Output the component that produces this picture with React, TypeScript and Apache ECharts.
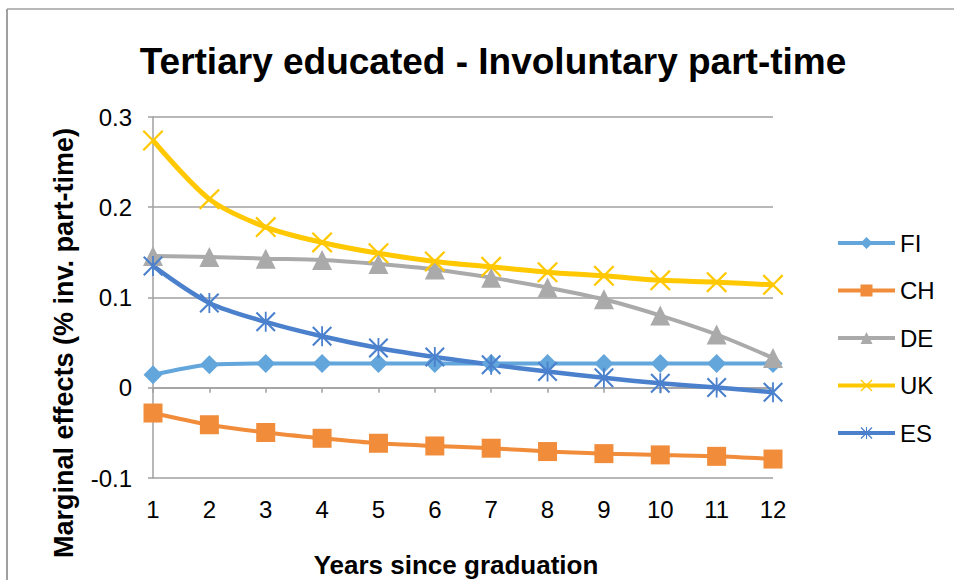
import React, { useEffect, useRef } from "react";
import * as echarts from "echarts";

const years = ["1", "2", "3", "4", "5", "6", "7", "8", "9", "10", "11", "12"];
const fiValues = [0.0144, 0.0256, 0.027, 0.027, 0.027, 0.027, 0.027, 0.027, 0.027, 0.027, 0.027, 0.027];
const chValues = [-0.028, -0.041, -0.0496, -0.056, -0.0615, -0.0645, -0.067, -0.0707, -0.073, -0.0744, -0.076, -0.079];
const deValues = [0.146, 0.145, 0.143, 0.1415, 0.137, 0.131, 0.122, 0.111, 0.098, 0.080, 0.059, 0.033];
const ukValues = [0.274, 0.209, 0.178, 0.161, 0.149, 0.140, 0.134, 0.128, 0.124, 0.119, 0.117, 0.114];
const esValues = [0.135, 0.094, 0.073, 0.057, 0.044, 0.034, 0.0256, 0.018, 0.011, 0.005, 0.0003, -0.005];

const titleText = "Tertiary educated - Involuntary part-time";
const yAxisTitle = "Marginal effects (% inv. part-time)";
const xAxisTitle = "Years since graduation";

const FONT = "'Liberation Sans', Arial, Helvetica, sans-serif";

const X_PATH =
  "path://M0,1.5 L1.5,0 L10,8.5 L18.5,0 L20,1.5 L11.5,10 L20,18.5 L18.5,20 L10,11.5 L1.5,20 L0,18.5 L8.5,10 Z";
const STAR_PATH =
  "path://M0,1.5 L1.5,0 L10,8.5 L18.5,0 L20,1.5 L11.5,10 L20,18.5 L18.5,20 L10,11.5 L1.5,20 L0,18.5 L8.5,10 Z M9.1,0 L10.9,0 L10.9,20 L9.1,20 Z";

export default function App() {
  const ref = useRef<HTMLDivElement>(null);

  useEffect(() => {
    if (!ref.current) return;
    const chart = echarts.init(ref.current, undefined, { renderer: "svg" });

    const mk = (name: string, data: number[], color: string, symbol: string, symbolSize: number, width: number) => ({
      name,
      type: "line",
      data,
      smooth: 0.3,
      symbol,
      symbolSize,
      showSymbol: true,
      lineStyle: { color, width },
      itemStyle: { color, borderWidth: 0 },
      emphasis: { disabled: true },
    });

    chart.setOption({
      animation: false,
      backgroundColor: "#ffffff",
      title: {
        text: titleText,
        left: 488,
        textAlign: "center",
        top: 38,
        textStyle: { fontFamily: FONT, fontSize: 37, fontWeight: "bold", color: "#000" },
      },
      grid: { left: 153, right: 181, top: 117, bottom: 102, containLabel: false },
      legend: {
        orient: "vertical",
        left: 831,
        top: 226,
        itemWidth: 57,
        itemHeight: 15,
        itemGap: 23.5,
        lineStyle: { width: 4 },
        textStyle: { fontFamily: FONT, fontSize: 24, color: "#000" },
        data: ["FI", "CH", "DE", "UK", "ES"],
      },
      xAxis: {
        type: "category",
        data: years,
        boundaryGap: false,
        axisLine: { show: true, lineStyle: { color: "#A0A0A0", width: 1.5 } },
        axisTick: { show: true, length: 5, lineStyle: { color: "#A0A0A0", width: 1.5 } },
        axisLabel: { fontFamily: FONT, fontSize: 24, color: "#000", margin: 19 },
        splitLine: { show: false },
      },
      yAxis: {
        type: "value",
        min: -0.1,
        max: 0.3,
        interval: 0.1,
        axisLine: { show: true, lineStyle: { color: "#A0A0A0", width: 1.5 } },
        axisTick: { show: true, length: 5, lineStyle: { color: "#A0A0A0", width: 1.5 } },
        axisLabel: {
          fontFamily: FONT,
          fontSize: 24,
          color: "#000",
          margin: 21,
          formatter: (v: number) => {
            const r = Math.round(v * 10) / 10;
            return r === 0 ? "0" : String(r);
          },
        },
        splitLine: { show: true, lineStyle: { color: "#A0A0A0", width: 1.5 } },
      },
      graphic: [
        { type: "line", shape: { x1: 7, y1: 9, x2: 954, y2: 9 }, style: { stroke: "#A0A0A0", lineWidth: 1.5 }, silent: true },
        { type: "line", shape: { x1: 7, y1: 9, x2: 7, y2: 580 }, style: { stroke: "#A0A0A0", lineWidth: 2 }, silent: true },
        {
          type: "text",
          x: 64,
          y: 343,
          rotation: Math.PI / 2,
          style: {
            text: yAxisTitle,
            fontFamily: FONT,
            fontSize: 27,
            fontWeight: "bold",
            fill: "#000",
            align: "center",
            verticalAlign: "middle",
          },
        },
        {
          type: "text",
          x: 456,
          y: 565,
          style: {
            text: xAxisTitle,
            fontFamily: FONT,
            fontSize: 26,
            fontWeight: "bold",
            fill: "#000",
            align: "center",
            verticalAlign: "middle",
          },
        },
      ],
      series: [
        mk("FI", fiValues, "#62A6DC", "diamond", 19, 4),
        mk("CH", chValues, "#F08C3A", "rect", 19, 4),
        mk("DE", deValues, "#AAAAAA", "triangle", 20, 4),
        mk("UK", ukValues, "#FFC800", X_PATH, 21, 5),
        mk("ES", esValues, "#4B80CD", STAR_PATH, 20, 4.5),
      ],
    });

    return () => chart.dispose();
  }, []);

  return (
    <div
      ref={ref}
      style={{ position: "fixed", left: 0, top: 0, width: 954, height: 580, background: "#fff" }}
    />
  );
}
